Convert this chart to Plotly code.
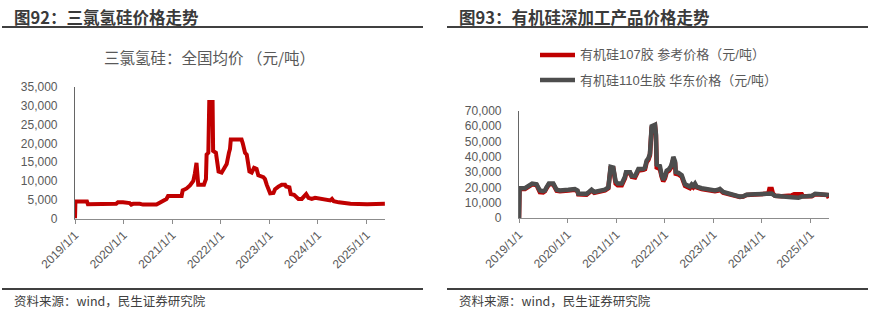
import plotly.graph_objects as go

# 三氯氢硅：全国均价（元/吨）
tcs_dates = [
    "2019-01-01", "2019-01-04", "2019-04-01", "2019-04-08", "2019-11-07", "2019-11-20",
    "2019-12-28", "2020-02-16", "2020-02-28", "2020-03-13", "2020-05-02", "2020-05-27",
    "2020-09-05", "2020-09-30", "2020-10-25", "2020-11-19", "2020-12-01", "2021-03-13",
    "2021-03-21", "2021-04-20", "2021-05-15", "2021-06-03", "2021-06-09", "2021-06-21",
    "2021-07-03", "2021-07-16", "2021-08-28", "2021-09-05", "2021-09-12", "2021-09-17",
    "2021-09-30", "2021-10-07", "2021-11-01", "2021-11-05", "2021-11-26", "2021-12-06",
    "2021-12-16", "2022-01-08", "2022-01-26", "2022-02-15", "2022-03-04", "2022-03-12",
    "2022-03-18", "2022-04-06", "2022-06-07", "2022-06-16", "2022-07-03", "2022-07-16",
    "2022-07-28", "2022-08-05", "2022-08-22", "2022-09-09", "2022-09-28", "2022-10-11",
    "2022-11-18", "2022-11-30", "2022-12-13", "2022-12-26", "2023-01-08", "2023-02-02",
    "2023-02-14", "2023-03-11", "2023-04-05", "2023-04-30", "2023-05-08", "2023-06-02",
    "2023-06-12", "2023-07-07", "2023-07-27", "2023-08-09", "2023-09-03", "2023-09-21",
    "2023-10-06", "2023-10-23", "2023-11-17", "2023-12-12", "2024-01-19", "2024-03-10",
    "2024-04-04", "2024-04-17", "2024-04-30", "2024-06-07", "2024-07-14", "2024-09-03",
    "2025-01-06", "2025-02-25", "2025-05-20",
]
tcs_values = [
    0, 4500, 4500, 3800, 3900, 4300,
    4300, 4100, 3700, 3900, 3900, 3700,
    3700, 4200, 4700, 5200, 6000, 6000,
    7500, 8000, 8800, 9500, 10000, 12000,
    14800, 9000, 9000, 9800, 10500, 17000,
    17500, 31000, 31000, 18000, 17500, 15000,
    12500, 12200, 13500, 14500, 17500, 18500,
    21000, 21000, 21000, 20000, 17500, 17000,
    14000, 12500, 12200, 13500, 13200, 11500,
    11000, 10500, 9000, 7500, 6700, 6800,
    7800, 8500, 9000, 9000, 8500, 8300,
    6500, 6300, 5800, 5200, 5200, 6000,
    6500, 5500, 5200, 5500, 5300, 5100,
    4800, 5200, 4600, 4300, 4100, 3900,
    3800, 3900, 3900,
]

# 有机硅110生胶 华东价格（元/吨）
gum_dates = [
    "2019-01-01", "2019-01-05", "2019-02-15", "2019-02-27", "2019-03-24", "2019-04-10",
    "2019-05-13", "2019-05-26", "2019-06-07", "2019-07-02", "2019-07-15", "2019-07-27",
    "2019-08-14", "2019-09-16", "2019-09-28", "2019-10-11", "2019-11-05", "2019-12-25",
    "2020-01-07", "2020-02-25", "2020-03-16", "2020-03-22", "2020-05-23", "2020-06-10",
    "2020-06-30", "2020-07-20", "2020-08-07", "2020-09-14", "2020-10-09", "2020-11-03",
    "2020-11-10", "2020-11-20", "2020-12-10", "2020-12-18", "2020-12-28", "2021-01-12",
    "2021-02-12", "2021-03-08", "2021-03-16", "2021-04-15", "2021-04-28", "2021-05-23",
    "2021-06-04", "2021-06-17", "2021-07-24", "2021-08-06", "2021-08-18", "2021-08-31",
    "2021-09-12", "2021-09-25", "2021-10-20", "2021-10-27", "2021-11-02", "2021-11-26",
    "2021-12-09", "2021-12-21", "2022-01-03", "2022-01-16", "2022-02-03", "2022-02-18",
    "2022-02-28", "2022-03-07", "2022-03-20", "2022-03-25", "2022-04-14", "2022-05-09",
    "2022-05-21", "2022-06-03", "2022-06-28", "2022-07-10", "2022-07-23", "2022-08-04",
    "2022-08-17", "2022-08-29", "2022-10-06", "2022-11-25", "2023-01-14", "2023-02-08",
    "2023-02-20", "2023-03-17", "2023-04-24", "2023-06-13", "2023-07-21", "2023-08-15",
    "2023-09-09", "2023-11-10", "2024-01-25", "2024-03-16", "2024-04-10", "2024-05-31",
    "2024-07-20", "2024-08-14", "2024-10-03", "2024-10-28", "2024-12-05", "2025-01-11",
    "2025-02-06", "2025-04-21", "2025-05-20",
]
gum_values = [
    0, 19500, 19500, 20000, 21500, 22500,
    22000, 20000, 18000, 17500, 18000, 20000,
    22500, 22500, 20000, 18500, 18000, 18000,
    18500, 19000, 18000, 16000, 15800, 17000,
    18500, 17000, 17500, 18000, 18500, 20000,
    25000, 33500, 33000, 28000, 24000, 22500,
    22500, 27000, 30000, 30000, 27500, 27500,
    30000, 32000, 32000, 33000, 37500, 39000,
    42000, 60000, 61000, 55000, 35000, 34000,
    28000, 25000, 27000, 31000, 32000, 34000,
    37000, 40000, 37000, 30000, 29500, 28000,
    25000, 22000, 21000, 20500, 22000, 21000,
    22500, 20500, 19500, 18500, 18000, 18500,
    19000, 17000, 16000, 14800, 14000, 14200,
    15200, 15500, 15800, 16000, 14500, 14300,
    14300, 13500, 13200, 14000, 14200, 14500,
    15800, 15500, 15000,
]

# 有机硅107胶 参考价格（元/吨）
rtv_dates = [
    "2019-01-01", "2019-01-05", "2019-02-15", "2019-02-27", "2019-03-24", "2019-04-10",
    "2019-05-13", "2019-05-26", "2019-06-07", "2019-07-02", "2019-07-15", "2019-07-27",
    "2019-08-14", "2019-09-16", "2019-09-28", "2019-10-11", "2019-11-05", "2019-12-25",
    "2020-01-07", "2020-02-25", "2020-03-16", "2020-03-22", "2020-05-23", "2020-06-10",
    "2020-06-30", "2020-07-20", "2020-08-07", "2020-09-14", "2020-10-09", "2020-11-03",
    "2020-11-10", "2020-11-20", "2020-12-10", "2020-12-18", "2020-12-28", "2021-01-12",
    "2021-02-12", "2021-03-08", "2021-03-16", "2021-04-15", "2021-04-28", "2021-05-23",
    "2021-06-04", "2021-06-17", "2021-07-24", "2021-08-06", "2021-08-18", "2021-08-31",
    "2021-09-12", "2021-09-25", "2021-10-20", "2021-10-27", "2021-11-02", "2021-11-26",
    "2021-12-09", "2021-12-21", "2022-01-03", "2022-01-16", "2022-02-03", "2022-02-18",
    "2022-02-28", "2022-03-07", "2022-03-20", "2022-03-25", "2022-04-14", "2022-05-09",
    "2022-05-21", "2022-06-03", "2022-06-28", "2022-07-10", "2022-07-23", "2022-08-04",
    "2022-08-17", "2022-08-29", "2022-10-06", "2022-11-25", "2023-01-14", "2023-02-08",
    "2023-02-20", "2023-03-17", "2023-04-24", "2023-06-13", "2023-07-21", "2023-08-15",
    "2023-09-09", "2023-11-10", "2024-01-25", "2024-02-20", "2024-02-28", "2024-03-16",
    "2024-03-25", "2024-04-10", "2024-05-31", "2024-07-20", "2024-08-14", "2024-09-01",
    "2024-10-28", "2024-11-05", "2024-12-05", "2025-01-11", "2025-02-06", "2025-04-21",
    "2025-05-10", "2025-05-20",
]
rtv_values = [
    0, 19000, 19000, 19500, 21000, 22000,
    21500, 19500, 17000, 16800, 17500, 19500,
    22000, 22000, 19500, 17800, 17500, 17500,
    18000, 18500, 17500, 15500, 15200, 16500,
    18000, 16500, 17000, 17500, 18000, 19500,
    24000, 32500, 32500, 27000, 22500, 21500,
    21500, 26000, 29000, 29500, 27000, 26500,
    29000, 31000, 31500, 32000, 36500, 38000,
    41000, 59000, 60500, 54000, 33000, 32000,
    27000, 24000, 26000, 30000, 31000, 33000,
    36000, 38500, 36000, 29000, 28500, 27000,
    24000, 21000, 20000, 19500, 21000, 20000,
    21500, 20000, 19000, 18000, 17500, 18000,
    18500, 16500, 15500, 14500, 13800, 14000,
    15000, 15300, 15500, 16000, 19000, 19000,
    16000, 14500, 14300, 14300, 14800, 15500,
    15500, 14200, 14200, 14200, 15500, 15500,
    15000, 13000,
]

year_ticks = ["2019-01-01", "2020-01-01", "2021-01-01", "2022-01-01",
              "2023-01-01", "2024-01-01", "2025-01-01"]
year_labels = ["2019/1/1", "2020/1/1", "2021/1/1", "2022/1/1",
               "2023/1/1", "2024/1/1", "2025/1/1"]

W, H = 891, 322
RED = "#C00000"
GRAY = "#4D4D4D"
TXT = "#595959"
FONT = "Liberation Sans, Noto Sans CJK SC, sans-serif"
CJK = "Noto Sans CJK SC, sans-serif"


def px(x):
    return x / W


def py(y):
    return 1 - y / H


fig = go.Figure()
fig.add_trace(go.Scatter(x=tcs_dates, y=tcs_values, xaxis="x", yaxis="y",
                         mode="lines", line=dict(color=RED, width=4),
                         showlegend=False))
fig.add_trace(go.Scatter(x=rtv_dates, y=rtv_values, xaxis="x2", yaxis="y2",
                         mode="lines", line=dict(color=RED, width=4.5),
                         showlegend=False))
fig.add_trace(go.Scatter(x=gum_dates, y=gum_values, xaxis="x2", yaxis="y2",
                         mode="lines", line=dict(color=GRAY, width=4.5),
                         showlegend=False))

xcommon = dict(
    type="date", range=["2019-01-01", "2025-05-21"],
    tickmode="array", tickvals=year_ticks, ticktext=year_labels,
    tickangle=-45, tickfont=dict(family=FONT, size=12, color=TXT),
    ticks="outside", ticklen=4, tickcolor="#8C8C8C",
    showline=True, linecolor="#8C8C8C", linewidth=1,
    showgrid=False, zeroline=False, fixedrange=True, automargin=False,
)
ycommon = dict(
    tickformat=",", tickfont=dict(family=FONT, size=12, color=TXT),
    showline=True, linecolor="#666666", linewidth=1.2,
    showgrid=False, zeroline=False, ticks="", ticklabelstandoff=14,
    fixedrange=True, automargin=False,
)

fig.update_layout(
    width=W, height=H, autosize=False,
    margin=dict(l=0, r=0, t=0, b=0, pad=0),
    paper_bgcolor="white", plot_bgcolor="white",
    xaxis=dict(domain=[px(75), px(385)], anchor="y", **xcommon),
    yaxis=dict(domain=[py(218.5), py(87)], anchor="x", range=[0, 35000],
               dtick=5000, **ycommon),
    xaxis2=dict(domain=[px(519), px(829)], anchor="y2", **xcommon),
    yaxis2=dict(domain=[py(218), py(111)], anchor="x2", range=[0, 70000],
                dtick=10000, **ycommon),
)

shapes = []
for x0, x1 in [(2, 423), (447, 868)]:
    for y in (27, 289):
        shapes.append(dict(type="line", xref="paper", yref="paper",
                           x0=px(x0), x1=px(x1), y0=py(y), y1=py(y),
                           line=dict(color="#404040", width=2.2)))
# legend swatches
for y, c in [(55, RED), (80, GRAY)]:
    shapes.append(dict(type="line", xref="paper", yref="paper",
                       x0=px(540), x1=px(575), y0=py(y), y1=py(y),
                       line=dict(color=c, width=4.5)))
fig.update_layout(shapes=shapes)

annotations = [
    dict(text="<b>图92：三氯氢硅价格走势</b>", x=px(12), y=py(17),
         font=dict(family=CJK, size=16.5, color="#3A3A3A"), xanchor="left"),
    dict(text="<b>图93：有机硅深加工产品价格走势</b>", x=px(457), y=py(17),
         font=dict(family=CJK, size=16.5, color="#3A3A3A"), xanchor="left"),
    dict(text="三氯氢硅：全国均价 （元/吨）", x=px(209), y=py(57),
         font=dict(family=CJK, size=15.5, color=TXT), xanchor="center"),
    dict(text="有机硅107胶 参考价格（元/吨）", x=px(578), y=py(55),
         font=dict(family=FONT, size=13, color=TXT), xanchor="left"),
    dict(text="有机硅110生胶 华东价格（元/吨）", x=px(578), y=py(80),
         font=dict(family=FONT, size=13, color=TXT), xanchor="left"),
    dict(text="资料来源：wind，民生证券研究院", x=px(12), y=py(300),
         font=dict(family=CJK, size=12.5, color="#404040"), xanchor="left"),
    dict(text="资料来源：wind，民生证券研究院", x=px(457), y=py(300),
         font=dict(family=CJK, size=12.5, color="#404040"), xanchor="left"),
]
for a in annotations:
    a.update(xref="paper", yref="paper", yanchor="middle", showarrow=False)
fig.update_layout(annotations=annotations)

fig.write_html("out.html", config={"displayModeBar": False},
               post_script="document.body.style.margin='0';")
